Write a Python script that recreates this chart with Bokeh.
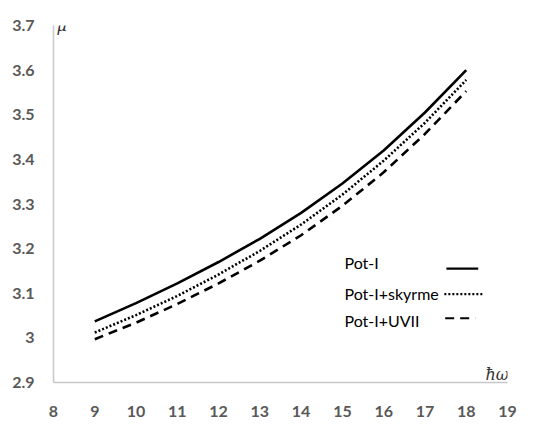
from bokeh.plotting import figure
from bokeh.models import FixedTicker, Label
from bokeh.embed import file_html
from bokeh.resources import INLINE

# ---- data ----
hw = [9, 10, 11, 12, 13, 14, 15, 16, 17, 18]
pot_i = [3.037, 3.078, 3.122, 3.170, 3.222, 3.280, 3.346, 3.420, 3.505, 3.600]
pot_i_skyrme = [3.012, 3.051, 3.094, 3.142, 3.195, 3.254, 3.321, 3.397, 3.482, 3.578]
pot_i_uvii = [2.997, 3.034, 3.076, 3.122, 3.173, 3.230, 3.296, 3.371, 3.457, 3.553]

x_ticks = [8, 9, 10, 11, 12, 13, 14, 15, 16, 17, 18, 19]
y_ticks = [2.9, 3.0, 3.1, 3.2, 3.3, 3.4, 3.5, 3.6, 3.7]
y_tick_labels = ["2.9", "3", "3.1", "3.2", "3.3", "3.4", "3.5", "3.6", "3.7"]

series_names = ["Pot-I", "Pot-I+skyrme", "Pot-I+UVII"]

# ---- figure ----
W, H = 548, 419
p = figure(width=W, height=H, x_range=(8, 19), y_range=(2.9, 3.7),
           output_backend="svg", toolbar_location=None,
           min_border_left=53, min_border_right=W - 507, min_border_top=25,
           min_border_bottom=H - 398)
p.outline_line_color = None
p.xgrid.grid_line_color = None
p.ygrid.grid_line_color = None
p.background_fill_color = "white"
p.border_fill_color = "white"

axis_color = "#c8c8c8"
label_color = "#595959"
for ax in (p.xaxis[0], p.yaxis[0]):
    ax.axis_line_color = axis_color
    ax.axis_line_width = 1.5
    ax.major_tick_line_color = None
    ax.minor_tick_line_color = None
    ax.major_label_text_font = "Lato"
    ax.major_label_text_font_style = "bold"
    ax.major_label_text_font_size = "16px"
    ax.major_label_text_color = label_color

p.xaxis[0].ticker = FixedTicker(ticks=x_ticks)
p.xaxis[0].major_label_standoff = 17
p.yaxis[0].ticker = FixedTicker(ticks=y_ticks)
p.yaxis[0].major_label_overrides = {t: s for t, s in zip(y_ticks, y_tick_labels)}
p.yaxis[0].major_label_standoff = 13

# ---- curves ----
styles = [dict(line_dash="solid"), dict(line_dash="2 2"), dict(line_dash="9 6")]
for ys, st in zip([pot_i, pot_i_skyrme, pot_i_uvii], styles):
    p.line(hw, ys, line_color="black", line_width=2.6, **st)

# ---- legend (manual: label left, sample right) ----
leg_text_x = 15.05
leg_y = [3.170, 3.100, 3.040]
leg_line_y = [3.155, 3.098, 3.044]
leg_x0 = [17.52, 17.47, 17.49]
leg_x1 = [18.29, 18.39, 18.22]
for name, ty, ly, x0, x1, st in zip(series_names, leg_y, leg_line_y, leg_x0, leg_x1, styles):
    p.add_layout(Label(x=leg_text_x, y=ty, text=name, text_font="Lato",
                       text_font_size="16px", text_color="black",
                       text_baseline="middle", text_align="left"))
    p.line([x0, x1], [ly, ly], line_color="black", line_width=2.2, **st)

# ---- axis titles ----
p.add_layout(Label(x=8.07, y=3.700, text="μ", text_font="DejaVu Serif",
                   text_font_style="italic", text_font_size="16px",
                   text_color="#333333", text_baseline="middle", text_align="left"))
p.add_layout(Label(x=18.75, y=2.918, text="ħω", text_font="DejaVu Serif",
                   text_font_style="italic", text_font_size="16px",
                   text_color="#333333", text_baseline="middle", text_align="center"))

open("out.html", "w").write(file_html(p, INLINE))
